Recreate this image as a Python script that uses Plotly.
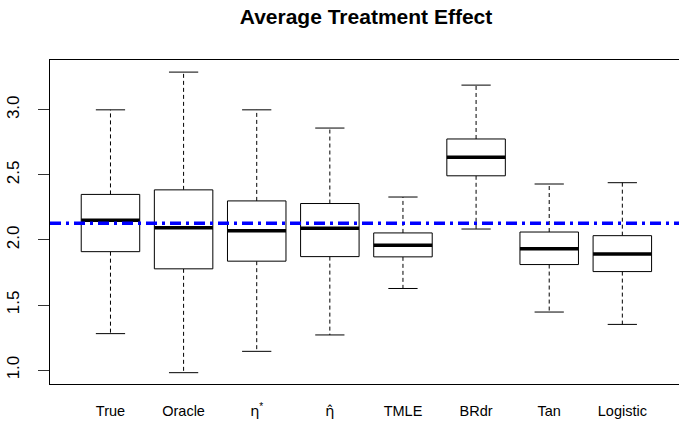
import plotly.graph_objects as go

# ---- data ----
ETA = "<span style='font-family:DejaVu Sans'>η</span>"
ETA_HAT = "<span style='font-family:DejaVu Sans'>η̂</span>"
methods = ["True", "Oracle", ETA + "<sup>*</sup>", ETA_HAT, "TMLE", "BRdr", "Tan", "Logistic"]
upper_whisker = [3.00, 3.29, 3.00, 2.86, 2.33, 3.19, 2.43, 2.44]
q3 = [2.35, 2.385, 2.30, 2.28, 2.054, 2.776, 2.061, 2.033]
median = [2.151, 2.094, 2.071, 2.09, 1.959, 2.636, 1.933, 1.893]
q1 = [1.91, 1.778, 1.837, 1.872, 1.87, 2.493, 1.811, 1.757]
lower_whisker = [1.28, 0.98, 1.144, 1.27, 1.627, 2.084, 1.446, 1.351]
reference_value = 2.128
y_ticks = [1.0, 1.5, 2.0, 2.5, 3.0]

BOX_W = 0.8
CAP_W = 0.4
X_RANGE = [0.173, 8.775]
pos = list(range(1, len(methods) + 1))

bx, by, mx, my, wx, wy, cx, cy = [], [], [], [], [], [], [], []
for p, lo, a, m, b, hi in zip(pos, lower_whisker, q1, median, q3, upper_whisker):
    h = BOX_W / 2
    bx += [p - h, p + h, p + h, p - h, p - h, None]
    by += [a, a, b, b, a, None]
    mx += [p - h, p + h, None]
    my += [m, m, None]
    wx += [p, p, None, p, p, None]
    wy += [b, hi, None, a, lo, None]
    c = CAP_W / 2
    cx += [p - c, p + c, None, p - c, p + c, None]
    cy += [hi, hi, None, lo, lo, None]

fig = go.Figure()
fig.add_trace(go.Scatter(x=wx, y=wy, mode="lines",
                         line=dict(color="black", width=1, dash="4px,3px"),
                         hoverinfo="skip", showlegend=False))
fig.add_trace(go.Scatter(x=cx, y=cy, mode="lines",
                         line=dict(color="black", width=1),
                         hoverinfo="skip", showlegend=False))
fig.add_trace(go.Scatter(x=bx, y=by, mode="lines", fill="toself",
                         fillcolor="white",
                         line=dict(color="black", width=1),
                         hoverinfo="skip", showlegend=False))
fig.add_trace(go.Scatter(x=mx, y=my, mode="lines",
                         line=dict(color="black", width=3.5),
                         hoverinfo="skip", showlegend=False))
fig.add_trace(go.Scatter(x=X_RANGE, y=[reference_value, reference_value],
                         mode="lines",
                         line=dict(color="#0000FF", width=3.5, dash="11px,5px,3px,5px"),
                         hoverinfo="skip", showlegend=False))

fig.update_layout(
    width=679, height=425,
    margin=dict(l=50, r=0, t=60, b=41, autoexpand=False),
    paper_bgcolor="white", plot_bgcolor="white",
    font=dict(family="Liberation Sans, Arial, sans-serif", color="black", size=14.5),
    title=dict(text="<b>Average Treatment Effect</b>",
               x=366 / 679, xanchor="center", xref="container",
               y=1 - 17 / 425, yanchor="middle", yref="container",
               font=dict(size=21, color="black")),
    showlegend=False,
)
fig.update_xaxes(range=X_RANGE, tickvals=pos, ticktext=methods, automargin=False,
                 showgrid=False, zeroline=False, ticks="",
                 showline=True, mirror=True, linecolor="black", linewidth=1,
                 ticklabelstandoff=14, tickfont=dict(size=14.5))
fig.update_yaxes(range=[0.893, 3.383], tickvals=y_ticks, automargin=False,
                 ticktext=[f"{v:.1f}" for v in y_ticks],
                 tickangle=-90, showgrid=False, zeroline=False,
                 ticks="outside", ticklen=11, tickcolor="#333",
                 showline=True, mirror=False, linecolor="black", linewidth=1,
                 ticklabelstandoff=12, tickfont=dict(size=17))

fig.write_html("out.html", config={"displayModeBar": False},
               post_script="document.body.style.margin='0';")
